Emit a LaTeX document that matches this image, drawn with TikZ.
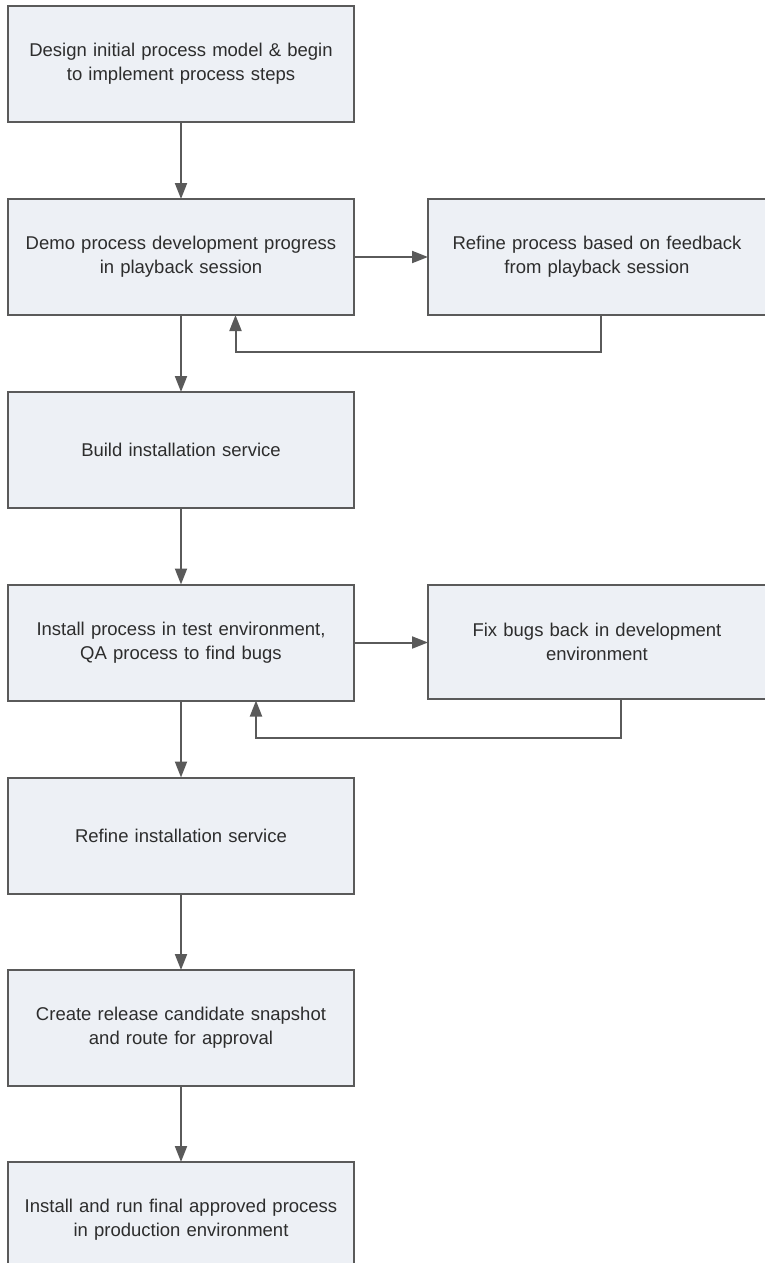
\documentclass[tikz,border=0pt]{standalone}
\usepackage{fontspec}
\setmainfont{Liberation Sans}
\usetikzlibrary{arrows.meta}
\definecolor{boxfill}{RGB}{237,240,245}
\definecolor{boxline}{RGB}{90,90,90}
\definecolor{boxtext}{RGB}{45,45,45}
\tikzset{
  procbox/.style={draw=boxline,fill=boxfill,line width=2pt,inner sep=0pt,outer sep=0pt,
    minimum width=346pt,minimum height=116pt,text width=330pt,align=center,
    text=boxtext,font=\fontsize{18.5}{24}\selectfont},
  sidebox/.style={procbox,minimum width=338pt,text width=320pt},
  flow/.style={draw=boxline,line width=2pt,-{Triangle[length=16pt,width=12pt]}}
}
\begin{document}
\begin{tikzpicture}[x=1pt,y=-1pt]
            \useasboundingbox (0,0) rectangle (765,1263);
            \node[procbox] (design) at (181, 64) {Design initial process model \& begin\\to implement process steps};
            \node[procbox] (demo) at (181, 257) {Demo process development progress\\in playback session};
            \node[procbox] (build) at (181, 450) {Build installation service};
            \node[procbox] (install) at (181, 642.5) {Install process in test environment,\\QA process to find bugs};
            \node[procbox] (refinesvc) at (181, 835.5) {Refine installation service};
            \node[procbox] (release) at (181, 1028) {Create release candidate snapshot\\and route for approval};
            \node[procbox] (prod) at (181, 1220) {Install and run final approved process\\in production environment};

            \node[sidebox] (refine) at (597, 257) {Refine process based on feedback\\from playback session};
            \node[sidebox,minimum height=114pt] (fixbugs) at (597, 642) {Fix bugs back in development\\environment};

            \coordinate (fbA) at (601, 352);\coordinate (fbB) at (235.5, 352);
            \coordinate (fbC) at (620.5, 738);\coordinate (fbD) at (256, 738);

            \draw[flow] (design) -- (demo);
            \draw[flow] (demo) -- (build);
            \draw[flow] (build) -- (install);
            \draw[flow] (install) -- (refinesvc);
            \draw[flow] (refinesvc) -- (release);
            \draw[flow] (release) -- (prod);

            \draw[flow] (demo) -- (demo -| refine.west);
            \draw[flow] (install) -- (install -| fixbugs.west);

            % loops back from the side boxes
            \draw[flow] (refine.south -| fbA) -- (fbA) -- (fbB) -- (fbB |- demo.south);
            \draw[flow] (fixbugs.south -| fbC) -- (fbC) -- (fbD) -- (fbD |- install.south);
        \end{tikzpicture}
\end{document}
